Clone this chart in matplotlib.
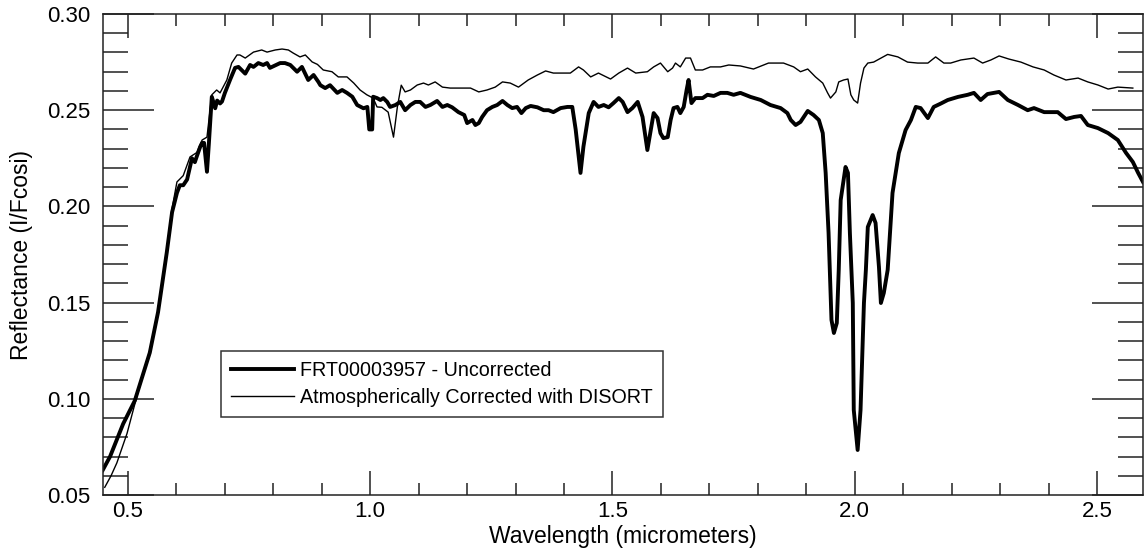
import matplotlib
matplotlib.use("Agg")
import matplotlib.pyplot as plt
from matplotlib.ticker import MultipleLocator

plt.rcParams['font.family'] = ['Liberation Sans', 'DejaVu Sans']

# FRT00003957 spectrum, uncorrected (wavelength in micrometers, reflectance I/F cos i)
wl_uncorr = [
    0.448, 0.463, 0.490, 0.514, 0.545, 0.562, 0.580, 0.591, 0.601, 0.607,
    0.614, 0.622, 0.632, 0.638, 0.642, 0.649, 0.653, 0.657, 0.663, 0.667,
    0.673, 0.680, 0.684, 0.690, 0.694, 0.700, 0.711, 0.721, 0.728, 0.742,
    0.752, 0.759, 0.769, 0.779, 0.787, 0.793, 0.814, 0.824, 0.835, 0.849,
    0.859, 0.872, 0.883, 0.893, 0.897, 0.907, 0.917, 0.932, 0.942, 0.952,
    0.963, 0.973, 0.986, 0.994, 0.998, 1.004, 1.006, 1.014, 1.021, 1.027,
    1.035, 1.041, 1.052, 1.062, 1.072, 1.083, 1.093, 1.103, 1.114, 1.124,
    1.138, 1.149, 1.159, 1.169, 1.182, 1.194, 1.200, 1.211, 1.217, 1.224,
    1.231, 1.241, 1.252, 1.262, 1.273, 1.283, 1.293, 1.303, 1.312, 1.321,
    1.331, 1.345, 1.358, 1.368, 1.378, 1.393, 1.407, 1.417, 1.424, 1.434,
    1.440, 1.451, 1.461, 1.471, 1.482, 1.492, 1.502, 1.513, 1.521, 1.531,
    1.541, 1.552, 1.562, 1.572, 1.579, 1.585, 1.593, 1.599, 1.605, 1.614,
    1.620, 1.626, 1.634, 1.640, 1.647, 1.653, 1.657, 1.663, 1.671, 1.686,
    1.696, 1.709, 1.723, 1.737, 1.750, 1.764, 1.785, 1.806, 1.826, 1.847,
    1.861, 1.868, 1.878, 1.888, 1.903, 1.915, 1.926, 1.934, 1.940, 1.946,
    1.952, 1.957, 1.963, 1.967, 1.971, 1.981, 1.986, 1.990, 1.996, 1.998,
    2.006, 2.012, 2.019, 2.023, 2.027, 2.037, 2.043, 2.050, 2.054, 2.060,
    2.068, 2.078, 2.091, 2.105, 2.116, 2.126, 2.136, 2.151, 2.163, 2.178,
    2.192, 2.213, 2.233, 2.246, 2.260, 2.274, 2.298, 2.316, 2.337, 2.357,
    2.370, 2.391, 2.419, 2.436, 2.453, 2.467, 2.481, 2.502, 2.523, 2.543,
    2.560, 2.574, 2.585, 2.595,
]
refl_uncorr = [
    0.063, 0.070, 0.087, 0.099, 0.124, 0.145, 0.176, 0.197, 0.207, 0.211,
    0.211, 0.214, 0.225, 0.223, 0.226, 0.231, 0.233, 0.233, 0.218, 0.233,
    0.257, 0.251, 0.255, 0.2535, 0.2545, 0.259, 0.266, 0.272, 0.2725, 0.269,
    0.2735, 0.2725, 0.2745, 0.2735, 0.2745, 0.272, 0.2745, 0.2745, 0.2735, 0.270,
    0.2725, 0.2657, 0.2683, 0.2647, 0.263, 0.2615, 0.263, 0.259, 0.2605, 0.259,
    0.257, 0.2527, 0.251, 0.2517, 0.240, 0.240, 0.257, 0.2563, 0.2553, 0.2563,
    0.2543, 0.2517, 0.2527, 0.2543, 0.250, 0.2527, 0.2543, 0.2543, 0.2517, 0.2527,
    0.2548, 0.2517, 0.2527, 0.2515, 0.249, 0.2475, 0.2433, 0.2449, 0.2423, 0.2433,
    0.2465, 0.250, 0.2517, 0.2527, 0.2548, 0.2527, 0.2511, 0.2517, 0.2485, 0.2511,
    0.2522, 0.2515, 0.250, 0.250, 0.249, 0.2511, 0.2517, 0.2517, 0.240, 0.2174,
    0.231, 0.2485, 0.2543, 0.2517, 0.2527, 0.2515, 0.2537, 0.2563, 0.2543, 0.249,
    0.2511, 0.2543, 0.2465, 0.2293, 0.2397, 0.2485, 0.2459, 0.2381, 0.2355, 0.236,
    0.2449, 0.2511, 0.2517, 0.2485, 0.2517, 0.2605, 0.2657, 0.2537, 0.2563, 0.2563,
    0.258, 0.2574, 0.259, 0.259, 0.258, 0.259, 0.2569, 0.2553, 0.2527, 0.2511,
    0.2485, 0.2449, 0.2423, 0.2439, 0.2496, 0.2475, 0.2449, 0.2381, 0.2174, 0.1862,
    0.141, 0.1342, 0.1394, 0.167, 0.2033, 0.2205, 0.2174, 0.1862, 0.1498, 0.0942,
    0.0734, 0.0942, 0.1498, 0.167, 0.1893, 0.1955, 0.1914, 0.1685, 0.1498, 0.155,
    0.167, 0.207, 0.2277, 0.2397, 0.2449, 0.2517, 0.2511, 0.2459, 0.2517, 0.2535,
    0.2553, 0.2569, 0.258, 0.259, 0.2553, 0.2584, 0.2595, 0.2553, 0.2527, 0.250,
    0.2511, 0.249, 0.249, 0.2454, 0.2465, 0.247, 0.2423, 0.2407, 0.2381, 0.2345,
    0.2278, 0.2231, 0.2174, 0.2127,
]

# Same spectrum after atmospheric correction with DISORT
wl_corr = [
    0.452, 0.465, 0.477, 0.498, 0.518, 0.545, 0.562, 0.580, 0.591, 0.601,
    0.614, 0.628, 0.642, 0.653, 0.663, 0.673, 0.683, 0.690, 0.704, 0.714,
    0.725, 0.731, 0.742, 0.759, 0.776, 0.787, 0.804, 0.818, 0.831, 0.841,
    0.855, 0.866, 0.880, 0.891, 0.903, 0.921, 0.934, 0.952, 0.966, 0.979,
    0.993, 1.006, 1.014, 1.024, 1.037, 1.048, 1.056, 1.064, 1.072, 1.083,
    1.097, 1.110, 1.120, 1.134, 1.149, 1.165, 1.186, 1.207, 1.224, 1.241,
    1.258, 1.273, 1.289, 1.306, 1.326, 1.345, 1.362, 1.378, 1.397, 1.413,
    1.430, 1.440, 1.455, 1.471, 1.496, 1.513, 1.531, 1.548, 1.572, 1.585,
    1.599, 1.614, 1.624, 1.630, 1.640, 1.651, 1.661, 1.671, 1.686, 1.702,
    1.723, 1.740, 1.764, 1.791, 1.822, 1.853, 1.874, 1.888, 1.903, 1.919,
    1.934, 1.944, 1.950, 1.961, 1.967, 1.977, 1.986, 1.992, 1.998, 2.006,
    2.012, 2.019, 2.027, 2.039, 2.054, 2.068, 2.089, 2.109, 2.130, 2.151,
    2.167, 2.184, 2.198, 2.219, 2.246, 2.264, 2.281, 2.298, 2.318, 2.343,
    2.368, 2.391, 2.411, 2.436, 2.461, 2.481, 2.502, 2.523, 2.543, 2.574,
]
refl_corr = [
    0.054, 0.060, 0.0667, 0.082, 0.101, 0.125, 0.146, 0.177, 0.199, 0.2127,
    0.216, 0.2257, 0.228, 0.2345, 0.236, 0.258, 0.2605, 0.259, 0.2657, 0.2745,
    0.2787, 0.2787, 0.2771, 0.2802, 0.2813, 0.2802, 0.2813, 0.2818, 0.2813, 0.2797,
    0.2777, 0.2787, 0.2751, 0.2738, 0.2709, 0.270, 0.2673, 0.2673, 0.2641, 0.2605,
    0.258, 0.2563, 0.2517, 0.2515, 0.249, 0.236, 0.2517, 0.263, 0.2595, 0.2605,
    0.2631, 0.2641, 0.2631, 0.2647, 0.262, 0.2615, 0.2615, 0.2615, 0.2595, 0.2605,
    0.262, 0.2647, 0.2641, 0.262, 0.2657, 0.2683, 0.2704, 0.2693, 0.2693, 0.2693,
    0.2725, 0.2709, 0.2673, 0.2693, 0.2662, 0.2693, 0.2719, 0.2693, 0.270, 0.2725,
    0.2745, 0.270, 0.2719, 0.2745, 0.2725, 0.2771, 0.2771, 0.2709, 0.2709, 0.2725,
    0.2725, 0.2735, 0.273, 0.2714, 0.2745, 0.2745, 0.2725, 0.270, 0.2714, 0.2673,
    0.2641, 0.259, 0.2563, 0.2595, 0.2647, 0.2657, 0.2662, 0.258, 0.2553, 0.2537,
    0.2641, 0.2719, 0.2745, 0.275, 0.2771, 0.279, 0.2777, 0.275, 0.2745, 0.2745,
    0.2777, 0.2745, 0.2745, 0.2761, 0.2771, 0.2745, 0.2761, 0.2782, 0.2766, 0.275,
    0.2725, 0.2709, 0.2683, 0.2657, 0.2667, 0.2647, 0.2631, 0.261, 0.262, 0.2615,
]

label_uncorr = "FRT00003957 - Uncorrected"
label_corr = "Atmospherically Corrected with DISORT"

W, H = 1144, 554
fig = plt.figure(figsize=(W / 100, H / 100), dpi=100)
ax = fig.add_axes([103 / W, 59 / H, 1040 / W, 481 / H])

ax.plot(wl_uncorr, refl_uncorr, color="black", lw=2.8, label=label_uncorr,
        solid_joinstyle="round")
ax.plot(wl_corr, refl_corr, color="black", lw=1.0, label=label_corr)

ax.set_xlim(0.4484, 2.595)
ax.set_ylim(0.05, 0.30)

ax.xaxis.set_major_locator(MultipleLocator(0.5))
ax.xaxis.set_minor_locator(MultipleLocator(0.1))
ax.yaxis.set_major_locator(MultipleLocator(0.05))
ax.yaxis.set_minor_locator(MultipleLocator(0.01))
ax.xaxis.set_major_formatter(matplotlib.ticker.FormatStrFormatter("%.1f"))
ax.yaxis.set_major_formatter(matplotlib.ticker.FormatStrFormatter("%.2f"))

ax.tick_params(axis="x", which="both", direction="in", top=True, bottom=True,
               width=1.1, labelsize=16, pad=4.5, color="#222222")
ax.tick_params(axis="x", which="major", length=17.3)
ax.tick_params(axis="x", which="minor", length=8.6)
ax.tick_params(axis="y", which="both", direction="in", left=True, right=True,
               width=1.1, labelsize=16, pad=9, color="#222222")
ax.tick_params(axis="y", which="major", length=36.5)
ax.tick_params(axis="y", which="minor", length=18)

for s in ax.spines.values():
    s.set_linewidth(1.1)
    s.set_color("#222222")

ax.set_xlabel("Wavelength (micrometers)", fontsize=16.5, labelpad=2)
ax.set_ylabel("Reflectance (I/Fcosi)", fontsize=16.5, labelpad=10)

leg = ax.legend(loc="upper left", bbox_to_anchor=(0.1135, 0.2994),
                borderaxespad=0, fontsize=14.2, frameon=True, fancybox=False,
                handlelength=3.2, handletextpad=0.3, borderpad=0.5,
                labelspacing=0.4)
leg.get_frame().set_edgecolor("black")
leg.get_frame().set_linewidth(1.1)

fig.savefig("out.png", dpi=100)
